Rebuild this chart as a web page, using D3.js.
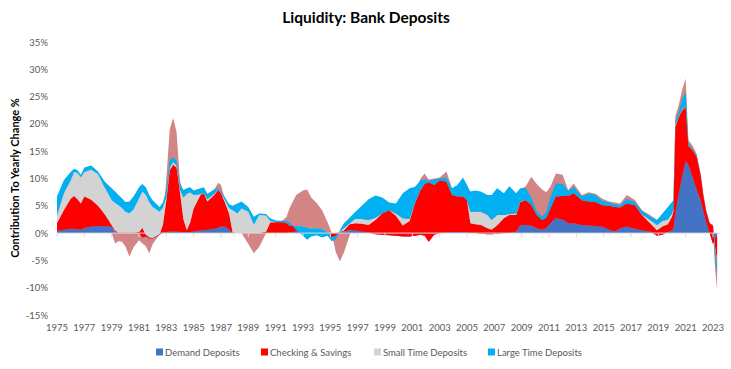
<!DOCTYPE html>
<html><head><meta charset="utf-8">
<script src="https://cdn.jsdelivr.net/npm/d3@7"></script>
<style>body{margin:0;background:#fff;} text{font-family:Lato,"Open Sans",sans-serif;}</style>
</head><body><svg id="c" width="731" height="369"></svg>
<script>
const dates = [1975.0,1975.5,1976.0,1976.25,1976.5,1976.75,1977.0,1977.5,1978.0,1978.5,
1979.0,1979.25,1979.5,1979.75,1980.0,1980.3,1980.6,1981.0,1981.25,1981.5,1981.75,1982.0,1982.5,1982.75,
1983.0,1983.25,1983.5,1983.75,1984.0,1984.25,1984.5,1984.75,1985.0,1985.5,1985.75,1986.0,1986.5,1986.8,
1987.0,1987.3,1987.6,1987.85,1988.2,1988.5,1989.0,1989.4,1989.8,1990.3,1990.6,1991.0,1991.5,1991.8,
1992.0,1992.5,1993.0,1993.3,1993.6,1994.0,1994.4,1994.8,1995.1,1995.4,1995.7,1996.0,1996.4,1996.8,
1997.3,1997.8,1998.3,1998.8,1999.3,1999.8,2000.3,2000.8,2001.2,2001.6,2001.9,2002.2,2002.6,2003.0,
2003.5,2003.9,2004.3,2004.7,2005.0,2005.25,2005.6,2006.0,2006.5,2006.8,2007.2,2007.7,2008.1,2008.6,
2008.9,2009.3,2009.7,2010.1,2010.5,2010.8,2011.1,2011.5,2012.0,2012.4,2012.8,2013.4,2013.9,2014.4,
2014.9,2015.4,2015.8,2016.2,2016.7,2017.3,2017.8,2018.4,2018.9,2019.3,2019.7,2020.0,2020.1,2020.25,
2020.5,2020.75,2021.0,2021.2,2021.5,2021.8,2022.1,2022.3,2022.5,2022.75,2023.0,2023.15,2023.3];

const demand = [0.4,0.6,0.8,0.8,0.7,0.6,1.0,1.2,1.3,1.3,
1.1,0.3,0,0,0,0,0,0,-0.8,-0.6,-1.0,-1.0,-0.3,0.1,
0.2,0.3,0.3,0.3,0.2,0.2,0.2,0.2,0.3,0.5,0.5,0.6,0.8,1.0,
1.2,1.2,0.6,0,0,0,0,0,0,0,0,0,0,0,
0.1,0.3,0.5,0.5,0.3,0.2,0.1,0,0,0,0.1,0.3,0.5,0.5,
0.3,0.1,-0.2,-0.3,-0.4,-0.5,-0.6,-0.6,-0.5,-0.3,-0.5,-1.6,-0.3,0,
0.1,0.2,0.2,0.2,0.1,0,0,-0.1,-0.2,-0.2,-0.1,0,0,0.3,
1.5,1.5,1.4,0.9,0.6,0.9,1.8,2.7,2.5,1.8,1.8,1.5,1.4,1.3,
1.2,0.6,0.3,0.9,1.2,0.8,0.5,0.3,-0.5,-0.3,0.2,0.5,0.8,3.8,
7.3,10.5,13.2,12.5,10.3,8.0,6.0,4.0,2.0,0,-2.0,-1.0,-0.5];

const checking = [1.4,3.6,5.5,6.0,5.5,4.8,5.7,4.9,3.7,2.1,
0.4,0.2,0.1,0.1,0.1,0.1,0.1,0.2,1.8,0.3,0.2,0.1,0.1,1.4,
5.8,11.2,12.2,11.7,7.3,2.3,0.3,1.8,4.2,6.5,6.8,5.2,6.2,6.9,
6.1,4.3,2.9,0.1,0,0,0,0,0,0.3,2.0,2.0,2.0,1.8,
1.4,0.9,0.1,0,-0.1,-0.1,-0.1,-0.2,-0.8,-0.5,0.1,0.2,1.1,1.3,
1.4,1.4,2.6,3.9,4.6,3.7,2.0,2.8,6.0,8.2,9.5,10.9,9.1,9.7,
9.3,6.8,6.5,6.5,5.9,1.8,1.6,1.6,1.1,0.8,1.5,2.7,3.3,3.0,
4.2,4.5,3.8,2.4,1.8,1.9,2.7,4.0,4.3,5.0,5.5,4.5,4.4,4.4,
3.9,4.4,4.5,3.8,4.2,4.3,2.8,1.5,1.0,1.5,1.4,2.5,3.2,15.7,
14.0,12.0,9.9,3.5,4.9,6.0,4.5,2.7,1.9,1.8,3.5,-1.5,-4.5];

const smallTime = [1.5,3.1,3.4,4.4,4.8,4.8,4.5,5.5,5.8,4.9,
4.5,5.0,5.0,4.5,3.8,3.5,4.2,6.1,6.6,7.3,6.4,5.7,4.1,3.1,
0.6,0.5,0.5,0.4,0.5,4.0,6.7,5.5,2.5,0.1,0.1,0.4,0.2,0.1,
0.1,0.5,1.0,4.1,3.6,4.5,3.9,1.5,3.3,2.9,0.2,0,0,0,
-0.1,0.1,0.6,0.5,0.6,0.8,0.7,0.4,0,0,0,0.4,0.1,0.8,
0.9,0.9,0.4,0,0,0.4,1.3,0.4,0.1,0.1,0,0,0,0,
0,0,0,0,0,2.1,2.3,2.4,2.4,1.8,1.9,0.6,0.2,0.3,
0.1,0,0,0,0,0,0,0,0,0,0,0,0,0,
0,0,0,0,0,0,0.1,0.6,1.0,1.0,0.9,0.6,0.5,0.3,
0.2,0.2,0.1,0.1,0.1,0,0,0,0,0,-0.1,-0.5,-0.6];

const largeTime = [3.4,2.4,1.5,0.6,0.5,0.5,0.8,0.8,0.5,1.1,
2.2,2.1,1.9,1.8,1.8,2.2,2.4,2.1,1.4,1.4,1.4,1.2,0.9,1.0,
1.4,1.4,0.9,0.8,1.0,1.4,1.0,0.9,0.8,1.1,1.0,1.0,0.8,0.2,
0.2,0.5,0.8,0.8,1.8,1.3,0.9,1.5,0.3,0.3,0.5,0.3,0.2,0.4,
0.6,-0.8,-1.7,-2.2,-1.4,-1.3,-1.5,-0.7,-0.7,-0.7,0.3,0.9,1.1,1.2,
2.4,3.8,4.1,2.9,1.4,1.8,4.6,5.6,2.9,1.7,0.8,0.3,1.0,0.3,
0.8,1.2,2.1,3.5,2.8,3.7,3.9,3.7,3.7,4.6,4.9,4.0,5.1,3.7,
2.4,2.2,1.3,0.7,0.6,1.1,2.0,2.4,2.2,0.9,1.2,0.7,1.4,1.3,
0.8,0.6,0.5,0.4,0.9,0.5,0.7,0.6,0.9,1.4,2.3,2.1,1.5,0.8,
0.8,1.8,2.7,0.5,0.2,0.2,0.1,0.1,0.1,0.1,-0.1,-1.5,-1.8];

const total = [6.0,9.0,10.5,11.0,10.8,10.0,11.3,11.5,10.5,8.5,
0.0,-1.9,-1.5,-1.6,-2.4,-4.3,-2.6,-1.3,-1.9,-2.4,-3.7,-2.0,-0.3,2.0,
10.0,19.0,21.1,18.5,9.5,7.5,7.6,8.0,7.5,7.8,8.0,6.8,8.0,9.2,
8.8,6.0,4.0,2.0,1.0,0.0,-2.0,-3.7,-2.5,0.0,1.5,2.0,2.3,3.0,
4.5,7.0,7.8,8.0,6.5,5.5,4.2,2.0,0.0,-3.5,-5.2,-3.5,-0.5,2.0,
3.0,4.0,5.0,5.5,5.0,4.5,5.5,7.0,7.5,10.0,10.9,9.8,10.0,10.2,
11.3,8.2,8.5,9.5,8.5,7.0,7.2,7.0,6.5,6.5,7.5,7.0,8.0,7.0,
8.0,8.6,10.3,9.0,8.0,7.5,8.5,10.9,10.7,7.9,9.1,7.0,7.5,7.2,
6.3,5.8,5.6,5.4,7.0,6.0,4.2,3.3,2.4,3.4,4.6,5.5,6.0,21.5,
23.5,26.3,28.3,17.0,16.0,14.6,10.9,7.2,4.3,2.0,0.5,-6.5,-10.4];

const seriesNames = ["Demand Deposits","Checking & Savings","Small Time Deposits","Large Time Deposits"];
const seriesColors = ["#4472C4","#FF0000","#D3D3D3","#00B0F0"];
const totalColor = "#D38585";
const yTickValues = [-15,-10,-5,0,5,10,15,20,25,30,35];
const xTickYears = [1975,1977,1979,1981,1983,1985,1987,1989,1991,1993,1995,1997,1999,2001,2003,2005,2007,2009,2011,2013,2015,2017,2019,2021,2023];

const svg = d3.select("#c");
const x = d3.scaleLinear().domain([1975, 2023]).range([57, 713]);
const y = d3.scaleLinear().domain([-15, 35]).range([315, 42]);

const rows = dates.map((d,i)=>({date:d, s0:demand[i], s1:checking[i], s2:smallTime[i], s3:largeTime[i], t:total[i]}));

svg.append("path").datum(rows)
  .attr("fill", totalColor)
  .attr("d", d3.area().x(d=>x(d.date)).y0(y(0)).y1(d=>y(d.t)));

const stack = d3.stack().keys(["s0","s1","s2","s3"]).offset(d3.stackOffsetNone);
const layers = stack(rows);
const area = d3.area().x(d=>x(d.data.date)).y0(d=>y(d[0])).y1(d=>y(d[1]));
svg.selectAll("path.layer").data(layers).join("path")
  .attr("class","layer")
  .attr("fill",(d,i)=>seriesColors[i])
  .attr("d", area);

svg.append("line").attr("x1",57).attr("x2",720).attr("y1",y(0)).attr("y2",y(0))
  .attr("stroke","#D9D9D9").attr("stroke-width",1);
svg.selectAll("line.xt").data(xTickYears).join("line").attr("class","xt")
  .attr("x1",d=>x(d)).attr("x2",d=>x(d)).attr("y1",y(0)).attr("y2",y(0)+4)
  .attr("stroke","#D9D9D9");

svg.selectAll("text.yl").data(yTickValues).join("text").attr("class","yl")
  .attr("x",48).attr("y",d=>y(d)+3.5).attr("text-anchor","end")
  .attr("font-size",9.5).attr("fill","#595959").text(d=>d+"%");

svg.selectAll("text.xl").data(xTickYears).join("text").attr("class","xl")
  .attr("x",d=>x(d)).attr("y",331).attr("text-anchor","middle")
  .attr("font-size",9.5).attr("fill","#595959").text(d=>d);

svg.append("text").attr("x",366).attr("y",23).attr("text-anchor","middle")
  .attr("font-size",15.5).attr("font-weight","bold").attr("fill","#000").text("Liquidity: Bank Deposits");

svg.append("text").attr("transform","translate(19,178) rotate(-90)").attr("text-anchor","middle")
  .attr("font-size",11).attr("font-weight","bold").attr("fill","#000").text("Contribution To Yearly Change %");

const legX = [156,261,374,488];
const leg = svg.selectAll("g.leg").data(seriesNames).join("g").attr("class","leg")
  .attr("transform",(d,i)=>`translate(${legX[i]},352)`);
leg.append("rect").attr("x",0).attr("y",-3.5).attr("width",7).attr("height",7).attr("fill",(d,i)=>seriesColors[i]);
leg.append("text").attr("x",9).attr("y",3.5).attr("font-size",9.5).attr("fill","#595959").text(d=>d);
</script></body></html>
